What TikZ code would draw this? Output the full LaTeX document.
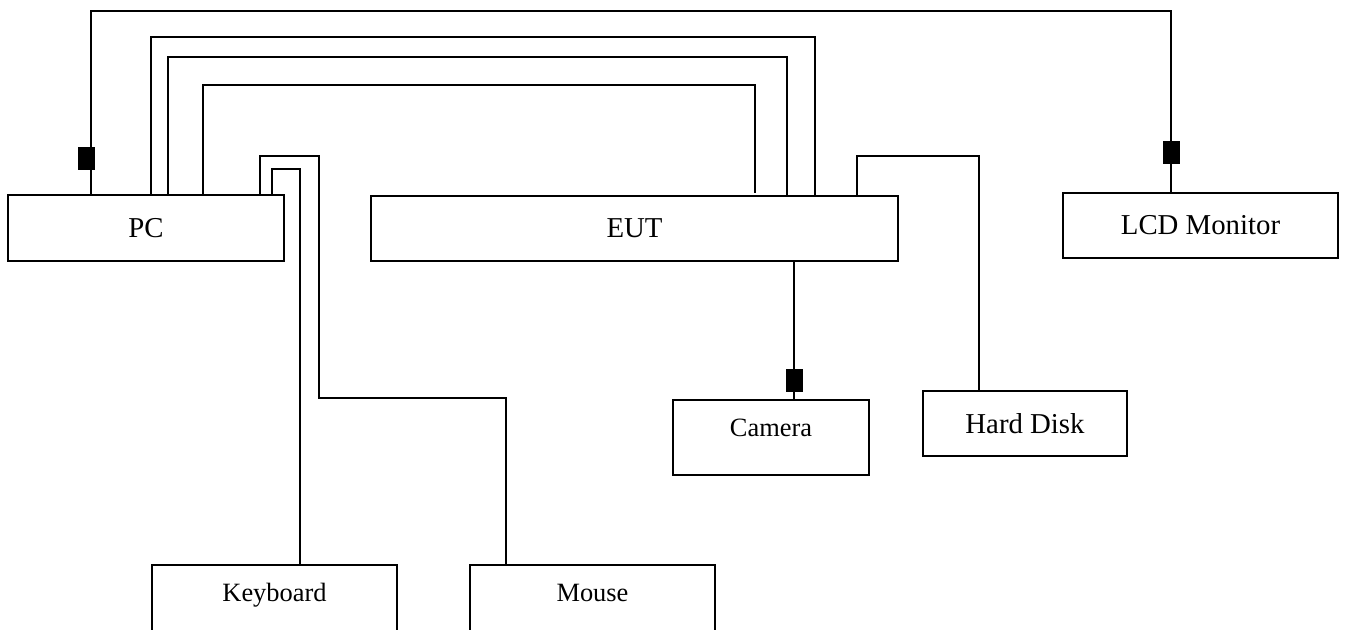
\documentclass[tikz,border=0pt]{standalone}
\usepackage{fontspec}
\setmainfont{Liberation Serif}
\tikzset{
  unit/.style={draw,line width=1.6bp,anchor=north west,font=\fontsize{28.8bp}{34bp}\selectfont},
  dev/.style={unit,font=\fontsize{26.4bp}{32bp}\selectfont,text depth=20bp},
  wire/.style={line width=1.6bp},
  ferrite/.style={fill=black,minimum width=17bp,minimum height=23bp}
}

\begin{document}
\begin{tikzpicture}[x=1bp,y=-1bp,inner sep=0pt,outer sep=0pt]
  \useasboundingbox (0,0) rectangle (1346,630);
  \clip (0,0) rectangle (1346,630);
  % units
  \node[unit,minimum width=276bp,minimum height=66bp] (pc) at (8,195) {PC};
  \node[unit,minimum width=527bp,minimum height=65bp] (eut) at (371,196) {EUT};
  \node[unit,minimum width=275bp,minimum height=65bp] (lcd) at (1063,193) {LCD Monitor};
  \node[unit,minimum width=204bp,minimum height=65bp] (hdd) at (923,391) {Hard Disk};
  \node[dev,minimum width=196bp,minimum height=75bp] (cam) at (673,400) {Camera};
  \node[dev,minimum width=245bp,minimum height=75bp] (kbd) at (152,565) {Keyboard};
  \node[dev,minimum width=245bp,minimum height=75bp] (mouse) at (470,565) {Mouse};
  % cables
  \draw[wire] ([xshift=83bp]pc.north west) -- ++(0,-184) -| ([xshift=108bp]lcd.north west);
  \draw[wire] ([xshift=143bp]pc.north west) -- ++(0,-158) -| ([xshift=444bp]eut.north west);
  \draw[wire] ([xshift=160bp]pc.north west) -- ++(0,-138) -| ([xshift=416bp]eut.north west);
  \draw[wire] ([xshift=195bp]pc.north west) -- ++(0,-110) -| ([xshift=384bp,yshift=3bp]eut.north west);
  \draw[wire] ([xshift=252bp]pc.north west) -- ++(0,-39) -- ++(59,0) -- ++(0,242) -| ([xshift=36bp]mouse.north west);
  \draw[wire] ([xshift=264bp]pc.north west) -- ++(0,-26) -| ([xshift=148bp]kbd.north west);
  \draw[wire] ([xshift=486bp]eut.north west) -- ++(0,-40) -| ([xshift=56bp]hdd.north west);
  \draw[wire] ([xshift=423bp]eut.south west) -- ([xshift=121bp]cam.north west);
  % ferrite cores
  \node[ferrite] (fpc) at (86.5,158.5) {};
  \node[ferrite] (flcd) at (1171,152.5) {};
  \node[ferrite] (fcam) at (794.5,380) {};
\end{tikzpicture}
\end{document}
